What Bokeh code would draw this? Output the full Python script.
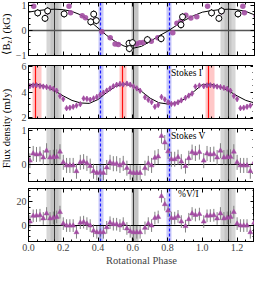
import numpy as np
from bokeh.plotting import figure
from bokeh.layouts import column, row
from bokeh.models import LinearAxis, SingleIntervalTicker, CustomJSTickFormatter, Range1d
from bokeh.core.properties import value
from bokeh.embed import file_html
from bokeh.resources import INLINE

# ---------------- data ----------------
# longitudinal field <Bz> (kG): two data sets
bz_purple_phase = [0.03, 0.11, 0.233, 0.242, 0.309, 0.328, 0.385, 0.422, 0.47, 0.498, 0.517,
                   0.621, 0.64, 0.659, 0.706, 0.744, 0.83, 0.854, 0.877, 0.905, 0.934, 0.968]
bz_purple_val = [0.98, 0.76, 0.98, 0.72, 0.59, 0.51, 0.41, -0.05, -0.29, -0.55, -0.57,
                 -0.55, -0.50, -0.49, -0.43, -0.29, -0.09, 0.29, 0.38, 0.62, 0.50, 0.55]
bz_white_phase = [0.053, 0.095, 0.11, 0.205, 0.358, 0.375, 0.39, 0.578, 0.58, 0.598,
                  0.684, 0.763, 0.877, 0.886]
bz_white_val = [0.71, 0.49, 0.79, 0.67, 0.35, 0.66, 0.40, -0.52, -0.73, -0.49,
                -0.37, -0.33, 0.23, 0.55]
bz_white_err = 0.15
model_phase = [0.00, 0.05, 0.10, 0.15, 0.20, 0.25, 0.30, 0.35, 0.40, 0.45,
               0.50, 0.55, 0.60, 0.65, 0.70, 0.75, 0.80, 0.85, 0.90, 0.95]
bz_model = [0.74, 0.80, 0.84, 0.86, 0.84, 0.77, 0.63, 0.40, 0.10, -0.20,
            -0.45, -0.63, -0.72, -0.64, -0.44, -0.22, -0.03, 0.20, 0.42, 0.60]
i_model = [4.58, 4.60, 4.42, 4.10, 3.70, 3.35, 3.15, 3.12, 3.42, 3.96,
           4.42, 4.62, 4.46, 4.05, 3.52, 3.17, 3.07, 3.16, 3.48, 4.02]

# radio observations
obs_phase = [0.008, 0.027, 0.046, 0.066, 0.085, 0.104, 0.124, 0.143, 0.162, 0.181,
             0.200, 0.219, 0.238, 0.257, 0.276, 0.298, 0.317, 0.336, 0.355, 0.374,
             0.393, 0.412, 0.431, 0.450, 0.469, 0.488, 0.507, 0.526, 0.545, 0.566,
             0.585, 0.604, 0.623, 0.642, 0.670, 0.689, 0.708, 0.727, 0.746, 0.765,
             0.784, 0.803, 0.822, 0.841, 0.860, 0.879, 0.903, 0.922, 0.941, 0.960,
             0.983]
stokes_i = [4.45, 4.51, 4.52, 4.47, 4.42, 4.38, 4.32, 4.25, 4.10, 3.70,
            3.45, 2.75, 2.79, 2.86, 2.95, 3.06, 3.50, 3.47, 3.40, 3.50,
            3.62, 3.78, 3.95, 4.11, 4.27, 4.44, 4.56, 4.62, 4.58, 4.65,
            4.57, 4.43, 4.28, 4.10, 3.60, 3.40, 3.22, 2.86, 3.00, 3.62,
            3.42, 3.20, 3.08, 3.10, 3.20, 3.35, 3.55, 3.72, 3.88, 4.42,
            4.50]
stokes_v = [0.12, 0.33, 0.30, 0.31, 0.21, 0.41, 0.21, 0.22, 0.23, 0.38,
            0.07, -0.02, -0.02, -0.02, -0.19, 0.07, 0.09, 0.04, -0.04, -0.19,
            -0.24, -0.22, -0.24, -0.08, 0.07, 0.03, 0.03, -0.02, 0.04, -0.10,
            -0.22, -0.24, -0.24, -0.24, -0.10, 0.04, -0.02, 0.20, 0.24, 0.84,
            0.65, 0.39, 0.16, 0.16, 0.22, 0.09, -0.04, 0.19, 0.37, 0.33,
            0.37]
pct_v_i = [3.0, 8.0, 8.2, 8.5, 5.7, 10.0, 5.7, 6.2, 7.0, 11.2,
           1.2, -0.5, -0.5, -0.5, -6.3, 2.0, 2.5, 1.2, -0.5, -5.0,
           -6.3, -6.3, -6.3, -2.0, 2.0, 0.7, 0.7, -0.5, 1.2, -3.0,
           -5.5, -6.3, -6.3, -6.3, -2.5, 1.2, -0.5, 6.0, 7.0, 25.0,
           18.0, 12.5, 6.0, 6.0, 7.5, 3.0, -1.0, 5.0, 10.0, 8.7,
           9.5]
i_err = 0.2
v_err = 0.22
pct_err = 5.5

# marked phases
gray_outer_lo = [0.105, 1.105]
gray_outer_hi = [0.19, 1.19]
gray_inner_lo = [0.125, 0.59, 1.125]
gray_inner_hi = [0.17, 0.63, 1.17]
gray_lines = [0.148, 0.605, 1.148]
blue_lo = [0.40, 0.795]
blue_hi = [0.43, 0.825]
blue_lines = [0.415, 0.81]
red_lo = [0.025, 0.525, 1.02]
red_hi = [0.075, 0.565, 1.07]
red_lines = [0.04, 0.54, 1.035]

PHASE_MAX = 1.3


def wrap(ph, *cols, upto=0.31):
    """repeat the first part of the cycle after phase 1, as in the figure"""
    out = [list(ph) + [p + 1 for p in ph if p < upto]]
    for c in cols:
        out.append(list(c) + [v for p, v in zip(ph, c) if p < upto])
    return out


# ---------------- layout ----------------
FONT = "Liberation Serif"
PURPLE = "#a24da2"
LW, BL, BR = 12, 14, 1
FW = 253 - LW - BL - BR
FH = 53
TOTAL_H = 271

XFMT = "return tick.toFixed(1);"
YFMT = "const r = Math.round(tick); return (r < 0 ? '\u2212' : '') + Math.abs(r);"


def style_axis(ax, labels, code):
    ax.axis_line_color = "black"
    ax.axis_line_width = 1
    ax.major_tick_in = 4
    ax.major_tick_out = 0
    ax.minor_tick_in = 2
    ax.minor_tick_out = 0
    ax.major_tick_line_color = "black"
    ax.minor_tick_line_color = "black"
    if labels:
        ax.formatter = CustomJSTickFormatter(code=code)
        ax.major_label_text_font = FONT
        ax.major_label_text_font_size = "10px"
        ax.major_label_standoff = 2
    else:
        ax.formatter = CustomJSTickFormatter(code="return '';")
        ax.major_label_text_font_size = "0px"
        ax.major_label_standoff = 0


def panel(yr, yint, yminor, top, bottom, xlabels=False):
    p = figure(frame_width=FW, frame_height=FH, x_range=Range1d(0, PHASE_MAX), y_range=Range1d(*yr),
               x_axis_type=None, y_axis_type=None, output_backend="svg", toolbar_location=None,
               min_border_left=BL, min_border_right=BR, min_border_top=top, min_border_bottom=bottom)
    p.outline_line_color = "black"
    p.outline_line_width = 1
    p.background_fill_color = "white"
    p.border_fill_color = "white"
    for side in ("below", "above"):
        ax = LinearAxis(ticker=SingleIntervalTicker(interval=0.2, num_minor_ticks=4))
        style_axis(ax, side == "below" and xlabels, XFMT)
        if side == "below" and xlabels:
            ax.axis_label = "Rotational Phase"
            ax.axis_label_text_font = FONT
            ax.axis_label_text_font_size = "10.5px"
            ax.axis_label_text_font_style = "normal"
            ax.axis_label_standoff = 1
        p.add_layout(ax, side)
    for side in ("left", "right"):
        ax = LinearAxis(ticker=SingleIntervalTicker(interval=yint, num_minor_ticks=yminor))
        style_axis(ax, side == "left", YFMT)
        p.add_layout(ax, side)
    # marked phases
    p.vstrip(x0=gray_outer_lo, x1=gray_outer_hi, fill_color="#d6d6d6", line_color=None)
    p.vstrip(x0=gray_inner_lo, x1=gray_inner_hi, fill_color="#c4c4c4", line_color=None)
    p.vspan(x=gray_lines, line_color="#3a3a3a", line_width=1)
    p.vstrip(x0=blue_lo, x1=blue_hi, fill_color="#c8c8fa", line_color=None)
    p.vspan(x=blue_lines, line_color="#1a1aff", line_width=1.2, line_dash="3 2")
    return p


# panel 1: <Bz>
p1 = panel((-1.01, 1.13), 1, 4, 2, 5)
p1.hspan(y=[0], line_color="#555555", line_width=1.6)
mx, my = wrap(model_phase, bz_model)
p1.line(mx, my, line_color="black", line_width=1)
px, py = wrap(bz_purple_phase, bz_purple_val)
p1.scatter(px, py, marker="circle", size=5.5, fill_color=PURPLE, line_color=None, fill_alpha=0.9)
wx, wy = wrap(bz_white_phase, bz_white_val)
wy = np.array(wy)
p1.segment(x0=wx, y0=wy - bz_white_err, x1=wx, y1=wy + bz_white_err, line_color="black", line_width=1)
p1.scatter(wx, wy, marker="circle", size=6, fill_color="white", line_color="black", line_width=1)

# panel 2: Stokes I
p2 = panel((1.95, 6.05), 2, 4, 5, 5)
p2.vstrip(x0=red_lo, x1=red_hi, fill_color="#ffc8c8", line_color=None)
p2.vspan(x=red_lines, line_color="#ff1010", line_width=1.2)
mx, mi = wrap(model_phase, i_model)
p2.line(mx, mi, line_color="black", line_width=1)
ox, oi, ov, op = wrap(obs_phase, stokes_i, stokes_v, pct_v_i)
oi, ov, op = np.array(oi), np.array(ov), np.array(op)
p2.segment(x0=ox, y0=oi - i_err, x1=ox, y1=oi + i_err, line_color=PURPLE, line_width=1)
p2.scatter(ox, oi, marker="diamond", size=5.5, fill_color=PURPLE, line_color=PURPLE, line_width=0.5)
p2.text(x=[0.82], y=[5.45], text=["Stokes I"], text_font=value(FONT), text_font_size="9.5px",
        text_baseline="middle", text_align="left", text_color="black")

# panel 3: Stokes V
p3 = panel((-0.49, 1.06), 1, 4, 5, 3)
p3.hspan(y=[0], line_color="black", line_width=1.2)
p3.segment(x0=ox, y0=ov - v_err, x1=ox, y1=ov + v_err, line_color="#808080", line_width=1)
p3.scatter(ox, ov, marker="triangle", size=5, fill_color=PURPLE, line_color=PURPLE, line_width=0.5)
p3.text(x=[0.82], y=[0.84], text=["Stokes V"], text_font=value(FONT), text_font_size="9.5px",
        text_baseline="middle", text_align="left", text_color="black")

# panel 4: %V/I
p4 = panel((-14.3, 31.7), 20, 4, 4, 30, xlabels=True)
p4.hspan(y=[0], line_color="black", line_width=1.2)
p4.segment(x0=ox, y0=op - pct_err, x1=ox, y1=op + pct_err, line_color="#808080", line_width=1)
p4.scatter(ox, op, marker="triangle", size=5, fill_color=PURPLE, line_color=PURPLE, line_width=0.5)
p4.text(x=[0.86], y=[27.0], text=["%V/I"], text_font=value(FONT), text_font_size="9.5px",
        text_baseline="middle", text_align="left", text_color="black")

# shared y-axis labels in a narrow strip on the left
lab = figure(width=LW, height=TOTAL_H, x_range=Range1d(0, LW), y_range=Range1d(0, TOTAL_H),
             x_axis_type=None, y_axis_type=None, output_backend="svg", toolbar_location=None,
             min_border=0, outline_line_color=None)
lab.text(x=[6], y=[TOTAL_H - 128], text=["Flux density (mJy)"], angle=np.pi / 2,
         text_align="center", text_baseline="middle", text_font=value(FONT), text_font_size="10.5px")
y0 = TOTAL_H - 34 - 20
lab.text(x=[6], y=[y0], text=["\u27e8B"], angle=np.pi / 2, text_align="left",
         text_baseline="middle", text_font=value(FONT), text_font_size="10.5px")
lab.text(x=[8.5], y=[y0 + 11], text=["z"], angle=np.pi / 2, text_align="left",
         text_baseline="middle", text_font=value(FONT), text_font_size="7.5px")
lab.text(x=[6], y=[y0 + 14.5], text=["\u27e9 (kG)"], angle=np.pi / 2, text_align="left",
         text_baseline="middle", text_font=value(FONT), text_font_size="10.5px")

layout = row(lab, column(p1, p2, p3, p4))
open("out.html", "w").write(file_html(layout, INLINE))
